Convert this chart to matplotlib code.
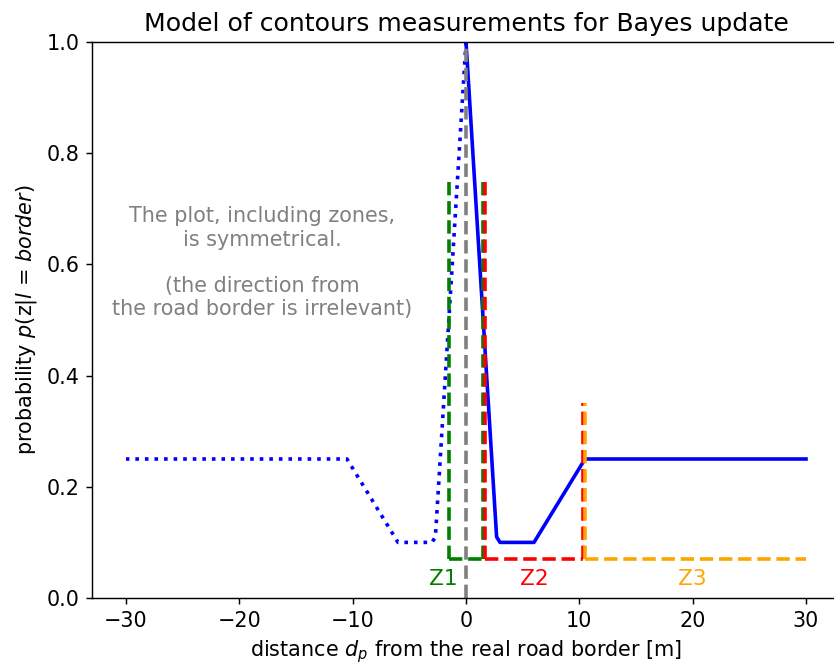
import matplotlib
matplotlib.use("Agg")
import matplotlib.pyplot as plt
import numpy as np

# Measurement model p(z | l = border) as a function of distance from the border
dist_pos = [0.0, 2.7, 3.0, 6.0, 10.5, 30.0]
prob_pos = [1.0, 0.11, 0.10, 0.10, 0.25, 0.25]

# Zone boundaries (distance) and their drawing heights
z1_edges = [-1.5, 1.5]
z2_edges = [1.7, 10.3]
z3_edges = [10.5, 30.0]
zone_level = 0.07
z1_top = 0.75
z2_tops = [0.75, 0.35]
z3_top = 0.35

zone_labels = ["Z1", "Z2", "Z3"]
zone_label_x = [-2.0, 6.0, 20.0]
zone_label_y = 0.035
zone_colors = ["green", "red", "orange"]

DPI = 130
fig = plt.figure(figsize=(834 / DPI, 666 / DPI), dpi=DPI)
ax = fig.add_axes([92 / 834, (666 - 598) / 666, (840 - 92) / 834, (598 - 42) / 666])

x_pos = np.array(dist_pos)
y_pos = np.array(prob_pos)

# Symmetric counterpart for negative distances (dotted)
ax.plot(-x_pos, y_pos, color="blue", linestyle=":", linewidth=2)
ax.plot(x_pos, y_pos, color="blue", linewidth=2)

# Road border position
ax.plot([0, 0], [0, 1], color="gray", linestyle="--", linewidth=2)

# Zone Z1
ax.plot([z1_edges[0], z1_edges[0]], [zone_level, z1_top], color="green", linestyle="--", linewidth=2)
ax.plot([z1_edges[1], z1_edges[1]], [zone_level, z1_top], color="green", linestyle="--", linewidth=2)
ax.plot(z1_edges, [zone_level, zone_level], color="green", linestyle="--", linewidth=2)

# Zone Z2
ax.plot([z2_edges[0], z2_edges[0]], [zone_level, z2_tops[0]], color="red", linestyle="--", linewidth=2)
ax.plot([z2_edges[1], z2_edges[1]], [zone_level, z2_tops[1]], color="red", linestyle="--", linewidth=2)
ax.plot(z2_edges, [zone_level, zone_level], color="red", linestyle="--", linewidth=2)

# Zone Z3
ax.plot([z3_edges[0], z3_edges[0]], [zone_level, z3_top], color="orange", linestyle="--", linewidth=2)
ax.plot(z3_edges, [zone_level, zone_level], color="orange", linestyle="--", linewidth=2)

for lab, lx, col in zip(zone_labels, zone_label_x, zone_colors):
    ax.text(lx, zone_label_y, lab, color=col, ha="center", va="center", fontsize=12)

ax.text(-18, 0.603, "The plot, including zones,\nis symmetrical.\n\n(the direction from\nthe road border is irrelevant)",
        color="gray", ha="center", va="center", fontsize=11.5, linespacing=1.2)

ax.set_xlim(-33, 33)
ax.set_ylim(0, 1.0)
ax.set_xticks([-30, -20, -10, 0, 10, 20, 30])
ax.tick_params(labelsize=11.5)
ax.set_title("Model of contours measurements for Bayes update", fontsize=13.9)
ax.set_xlabel("distance $d_p$ from the real road border [m]", fontsize=11.5)
ax.set_ylabel("probability $p$(z|$l$ = $border$)", fontsize=11.5)

fig.savefig("out.png", dpi=DPI)
